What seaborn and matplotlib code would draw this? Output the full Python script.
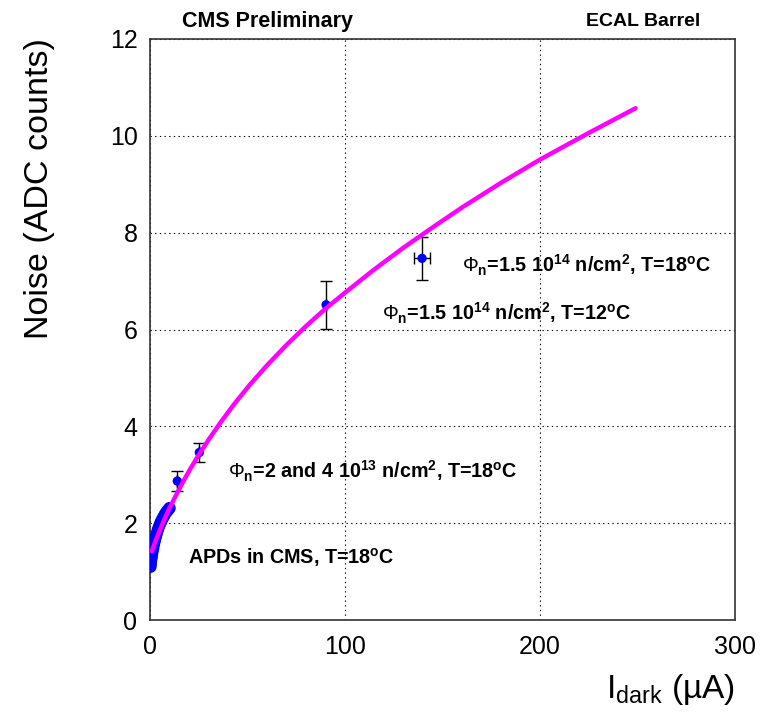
import matplotlib
matplotlib.use('Agg')
import matplotlib.pyplot as plt
from matplotlib.ticker import MultipleLocator
import pandas as pd
import seaborn as sns

# APDs in CMS, T=18C (dense cluster at low current)
apd_current = [0.2, 0.3, 0.4, 0.6, 0.8, 1.0, 1.3, 1.6, 2.0, 2.4, 2.9, 3.4,
               4.0, 4.6, 5.3, 6.0, 6.8, 7.6, 8.4, 9.2, 10.0]
apd_noise = [1.10, 1.15, 1.20, 1.25, 1.30, 1.35, 1.42, 1.48, 1.56, 1.63, 1.71, 1.78,
             1.86, 1.93, 2.00, 2.06, 2.12, 2.18, 2.23, 2.27, 2.31]

# irradiated APDs, with errors
irr_current = [14.0, 25.3, 90.3, 139.5]
irr_noise = [2.87, 3.46, 6.51, 7.47]
irr_current_err = [0.0, 0.0, 0.0, 4.0]
irr_noise_err = [0.20, 0.19, 0.50, 0.44]

# fitted curve
fit_current = [1.0, 1.5, 3, 5, 7.5, 10, 13, 16.5, 20.5, 25, 30, 36, 43, 51, 60, 70,
               80, 90, 100, 115, 130, 145, 160, 180, 200, 225, 249]
fit_noise = [1.42, 1.49, 1.65, 1.85, 2.09, 2.31, 2.55, 2.82, 3.11, 3.41, 3.72, 4.07,
             4.45, 4.85, 5.26, 5.68, 6.07, 6.43, 6.76, 7.24, 7.69, 8.11, 8.52, 9.03,
             9.51, 10.06, 10.57]

labels = [
    r'$\Phi_{\mathbf{n}}$=1.5 10$^{\mathbf{14}}$ n/cm$^{\mathbf{2}}$, T=18$^{\mathbf{o}}$C',
    r'$\Phi_{\mathbf{n}}$=1.5 10$^{\mathbf{14}}$ n/cm$^{\mathbf{2}}$, T=12$^{\mathbf{o}}$C',
    r'$\Phi_{\mathbf{n}}$=2 and 4 10$^{\mathbf{13}}$ n/cm$^{\mathbf{2}}$, T=18$^{\mathbf{o}}$C',
    r'APDs in CMS, T=18$^{\mathbf{o}}$C',
]
label_x = [160, 119, 40, 19.5]
label_y = [7.33, 6.34, 3.06, 1.3]

apd = pd.DataFrame({'current': apd_current, 'noise': apd_noise})
irr = pd.DataFrame({'current': irr_current, 'noise': irr_noise})
fit = pd.DataFrame({'current': fit_current, 'noise': fit_noise})

sns.set_style('white')
plt.rcParams['font.family'] = ['Liberation Sans', 'DejaVu Sans']
plt.rcParams['text.color'] = 'black'
plt.rcParams['axes.labelcolor'] = 'black'
plt.rcParams['xtick.color'] = 'black'
plt.rcParams['ytick.color'] = 'black'
plt.rcParams['mathtext.fontset'] = 'custom'
plt.rcParams['mathtext.rm'] = 'Liberation Sans'
plt.rcParams['mathtext.bf'] = 'Liberation Sans:bold'
plt.rcParams['mathtext.it'] = 'Liberation Sans:italic'
plt.rcParams['mathtext.sf'] = 'Liberation Sans'

fig = plt.figure(figsize=(7.64, 7.12), dpi=100)
ax = fig.add_axes([150 / 764, 1 - 620 / 712, 585 / 764, 581 / 712])

# error bars
ax.errorbar(irr['current'], irr['noise'], xerr=irr_current_err, yerr=irr_noise_err,
            fmt='none', ecolor='black', elinewidth=1, capsize=4, capthick=1, zorder=2)

sns.scatterplot(data=apd, x='current', y='noise', color='#0000ff', s=80,
                edgecolor='none', ax=ax, zorder=3)
sns.scatterplot(data=irr, x='current', y='noise', color='#0000ff', s=45,
                edgecolor='none', ax=ax, zorder=3)
sns.lineplot(data=fit, x='current', y='noise', color='#ff00ff', linewidth=3.2,
             ax=ax, zorder=4, sort=False)

for txt, x, y in zip(labels, label_x, label_y):
    ax.text(x, y, txt, fontsize=14.2, fontweight='bold', ha='left', va='center')

ax.set_xlim(0, 300)
ax.set_ylim(0, 12)
ax.xaxis.set_major_locator(MultipleLocator(100))
ax.xaxis.set_minor_locator(MultipleLocator(20))
ax.yaxis.set_major_locator(MultipleLocator(2))
ax.yaxis.set_minor_locator(MultipleLocator(0.5))
ax.tick_params(which='both', direction='in', top=False, right=False,
               color='black', width=1)
ax.tick_params(which='major', length=12, labelsize=18, pad=9)
ax.tick_params(axis='x', which='major', pad=11)
ax.tick_params(which='minor', length=7.5)
ax.grid(True, which='major', color='black', linestyle=(0, (1.2, 3)), linewidth=0.8)
for sp in ax.spines.values():
    sp.set_color('#333333')
    sp.set_linewidth(1.2)

ax.set_xlabel('')
ax.set_ylabel('')
fig.text(40 / 764, 1 - 38 / 712, 'Noise (ADC counts)', rotation=90,
         ha='center', va='top', fontsize=24.5)
fig.text(735 / 764, 1 - 698 / 712, 'I$_{\\mathrm{dark}}$ (µA)',
         ha='right', va='baseline', fontsize=24)

fig.text(182 / 764, 1 - 22 / 712, 'CMS Preliminary', fontsize=15.5,
         fontweight='bold', ha='left', va='center')
fig.text(700 / 764, 1 - 22 / 712, 'ECAL Barrel', fontsize=14,
         fontweight='bold', ha='right', va='center')

fig.savefig('out.png', dpi=100)
